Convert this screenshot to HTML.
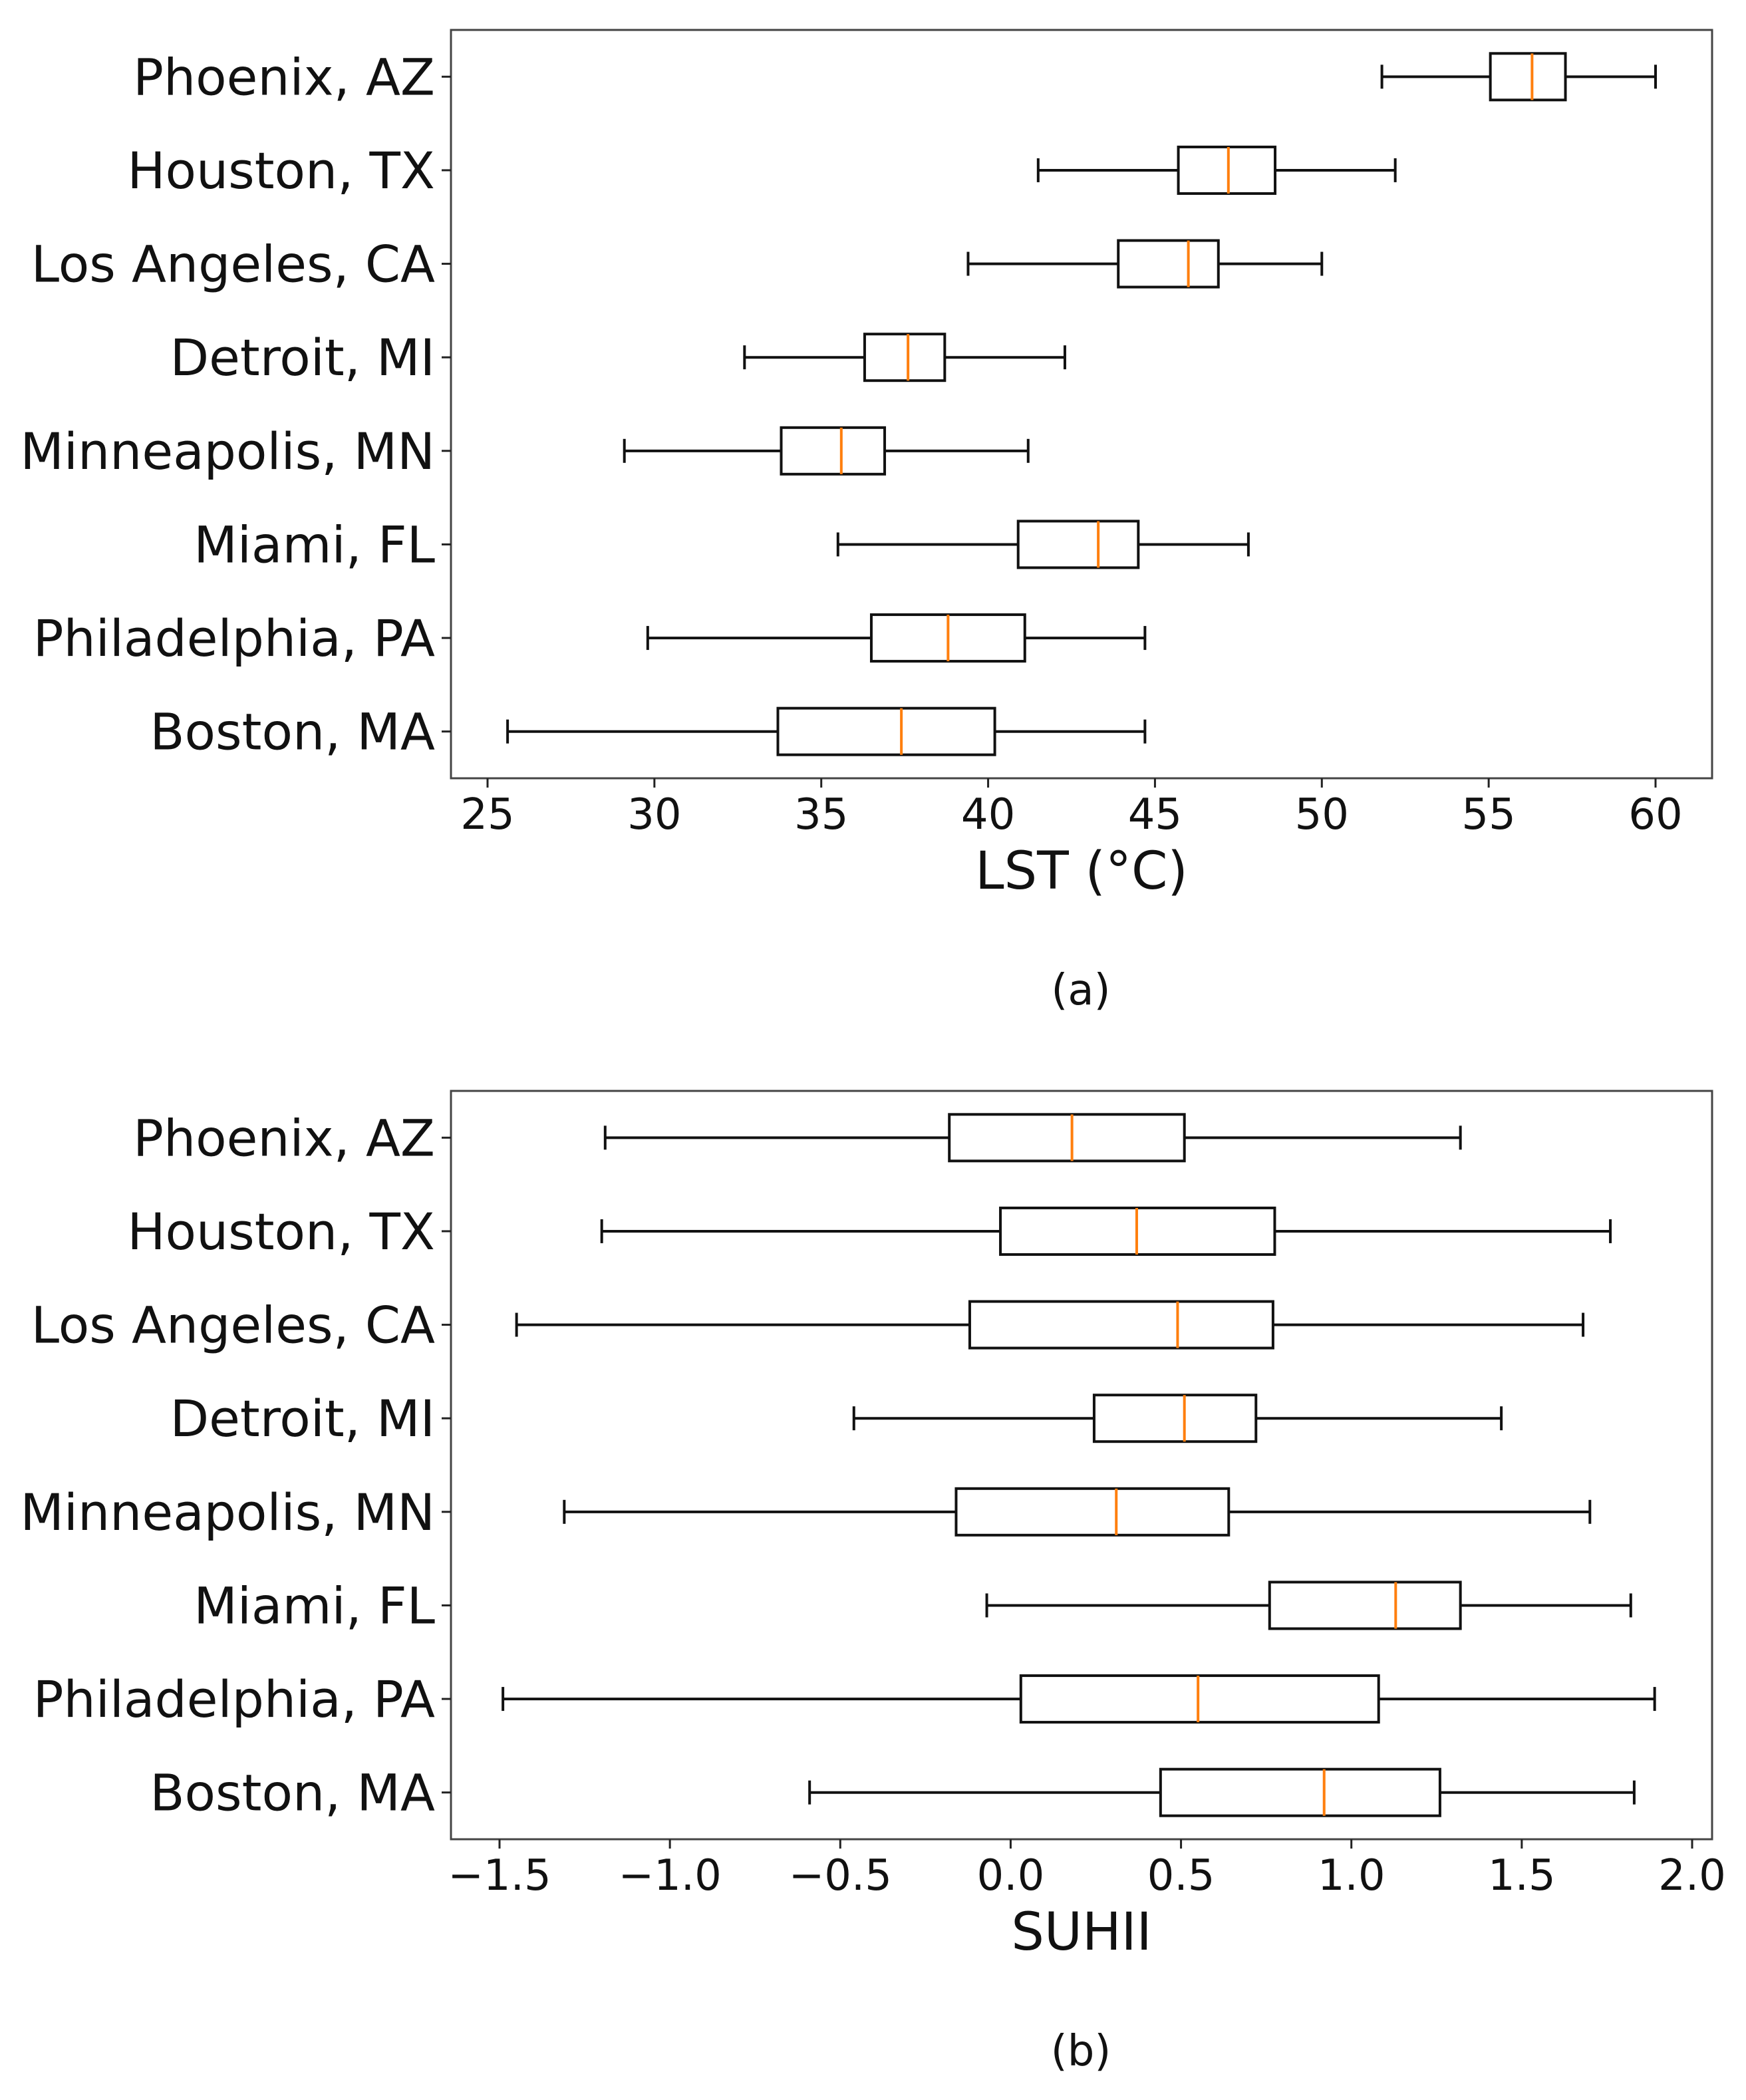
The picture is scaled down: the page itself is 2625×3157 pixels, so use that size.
<!DOCTYPE html>
<html><head><meta charset="utf-8"><style>
html,body{margin:0;padding:0;background:#fff;}
svg{display:block;font-family:"DejaVu Sans","Liberation Sans",sans-serif;}
</style></head>
<body>
<svg id="fig" width="2625" height="3157" viewBox="0 0 2625 3157" xmlns="http://www.w3.org/2000/svg"></svg>
<script>
const cities = ["Phoenix, AZ","Houston, TX","Los Angeles, CA","Detroit, MI","Minneapolis, MN","Miami, FL","Philadelphia, PA","Boston, MA"];
const lstMin = [51.8,41.5,39.4,32.7,29.1,35.5,29.8,25.6];
const lstQ1  = [55.05,45.7,43.9,36.3,33.8,40.9,36.5,33.7];
const lstMed = [56.3,47.2,46.0,37.6,35.6,43.3,38.8,37.4];
const lstQ3  = [57.3,48.6,46.9,38.7,36.9,44.5,41.1,40.2];
const lstMax = [60.0,52.2,50.0,42.3,41.2,47.8,44.7,44.7];
const lstTicks = [25,30,35,40,45,50,55,60];
const suMin = [-1.19,-1.20,-1.45,-0.46,-1.31,-0.07,-1.49,-0.59];
const suQ1  = [-0.18,-0.03,-0.12,0.245,-0.16,0.76,0.03,0.44];
const suMed = [0.18,0.37,0.49,0.51,0.31,1.13,0.55,0.92];
const suQ3  = [0.51,0.775,0.77,0.72,0.64,1.32,1.08,1.26];
const suMax = [1.32,1.76,1.68,1.44,1.70,1.82,1.89,1.83];
const suTicks = [-1.5,-1.0,-0.5,0.0,0.5,1.0,1.5,2.0];
const suTickLabels = ["\u22121.5","\u22121.0","\u22120.5","0.0","0.5","1.0","1.5","2.0"];

const NS="http://www.w3.org/2000/svg";
const svg=document.getElementById('fig');
function mk(tag,attrs,parent){const e=document.createElementNS(NS,tag);for(const k in attrs)e.setAttribute(k,attrs[k]);(parent||svg).appendChild(e);return e;}

function panel(p){
  const g=mk('g',{});
  
  
  const sx=v=>p.x0+(v-p.v0)*(p.x1-p.x0)/(p.v1-p.v0);
  const rowH=(p.bottom-p.top)/8;
  const sy=i=>p.top+rowH*(i+0.5);
  const fr=mk('rect',{x:p.left,y:p.top,width:p.right-p.left,height:p.bottom-p.top,fill:'none',stroke:'#444','stroke-width':3},g);
  
  
  p.ticks.forEach((t,k)=>{
    const x=sx(t);
    mk('line',{x1:x,x2:x,y1:p.bottom,y2:p.bottom+14,stroke:'#222','stroke-width':3},g);
    const tx=mk('text',{x:x,y:p.bottom+76,'font-size':64,'text-anchor':'middle',fill:'#111'},g);
    tx.textContent=p.tickLabels[k];
    
    
  });
  cities.forEach((c,i)=>{
    const y=sy(i);
    mk('line',{x1:p.left-14,x2:p.left,y1:y,y2:y,stroke:'#222','stroke-width':3},g);
    const t=mk('text',{x:p.left-24,y:y+27,'font-size':76,'text-anchor':'end',fill:'#111'},g);
    t.textContent=c;
    
    
    const bg=mk('g',{},g);
    
    
    const st={stroke:'#111','stroke-width':4,fill:'none'};
    mk('line',Object.assign({x1:sx(p.mn[i]),x2:sx(p.q1[i]),y1:y,y2:y},st),bg);
    mk('line',Object.assign({x1:sx(p.q3[i]),x2:sx(p.mx[i]),y1:y,y2:y},st),bg);
    mk('line',Object.assign({x1:sx(p.mn[i]),x2:sx(p.mn[i]),y1:y-18,y2:y+18},st),bg);
    mk('line',Object.assign({x1:sx(p.mx[i]),x2:sx(p.mx[i]),y1:y-18,y2:y+18},st),bg);
    mk('rect',Object.assign({x:sx(p.q1[i]),y:y-35,width:sx(p.q3[i])-sx(p.q1[i]),height:70},st),bg);
    mk('line',{x1:sx(p.md[i]),x2:sx(p.md[i]),y1:y-35,y2:y+35,stroke:'#ff7f0e','stroke-width':4},bg);
  });
  const xl=mk('text',{x:(p.left+p.right)/2,y:p.bottom+166,'font-size':78,'text-anchor':'middle',fill:'#111'},g);
  xl.textContent=p.xlabel;
  
  
  const cap=mk('text',{x:1625,y:p.capY,'font-size':64,'text-anchor':'middle',fill:'#111'},g);
  cap.textContent=p.caption;
  
  
}
panel({name:'lst-boxplot',left:678,right:2574,top:45,bottom:1170,x0:733,x1:2489,v0:25,v1:60,
  ticks:lstTicks,tickLabels:lstTicks.map(String),mn:lstMin,q1:lstQ1,md:lstMed,q3:lstQ3,mx:lstMax,
  xlabel:'LST (°C)',caption:'(a)',capY:1510});
panel({name:'suhii-boxplot',left:678,right:2574,top:1640,bottom:2765,x0:751,x1:2544,v0:-1.5,v1:2.0,
  ticks:suTicks,tickLabels:suTickLabels,mn:suMin,q1:suQ1,md:suMed,q3:suQ3,mx:suMax,
  xlabel:'SUHII',caption:'(b)',capY:3105});
</script>
</body></html>
